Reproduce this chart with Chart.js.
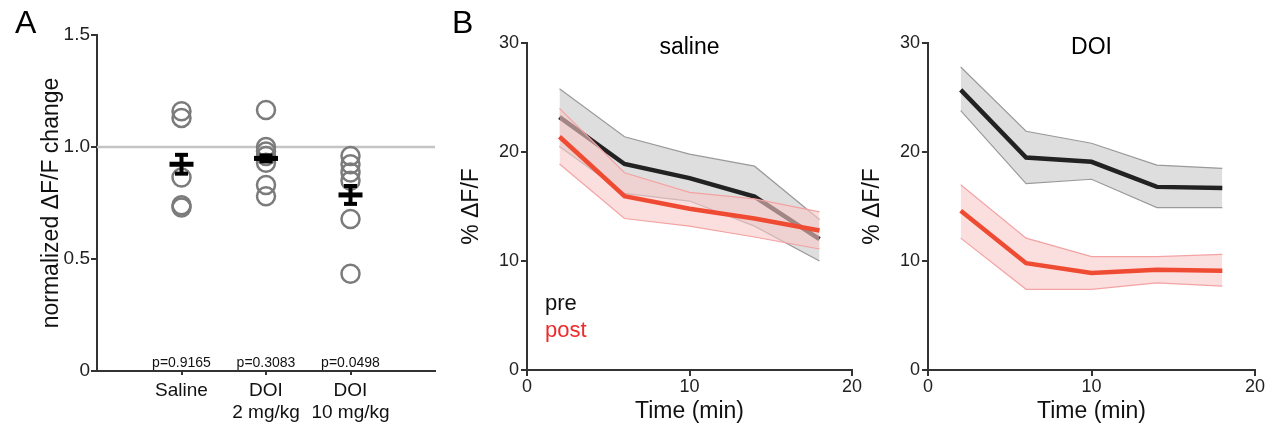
<!DOCTYPE html>
<html>
<head>
<meta charset="utf-8">
<script src="https://cdn.jsdelivr.net/npm/chart.js@4.4.1/dist/chart.umd.min.js"></script>
<style>
    body { margin: 0; background: #fff; }
    #wrap { position: relative; width: 1273px; height: 429px; overflow: hidden; font-family: 'Liberation Sans', Arial, sans-serif; }
    canvas { position: absolute; top: 0; }
    .panel-letter { position: absolute; font-size: 32px; line-height: 1; color: #000; }
</style>
</head>
<body>
<div id="wrap">
    <canvas id="chartA" width="440" height="429" style="left:0"></canvas>
    <canvas id="chartSaline" width="440" height="429" style="left:430px"></canvas>
    <canvas id="chartDoi" width="443" height="429" style="left:830px"></canvas>
    <div class="panel-letter" style="left:15px; top:6px">A</div>
    <div class="panel-letter" style="left:452px; top:6px">B</div>
</div>
<script>
// panel A
const groupLabels = [['Saline'], ['DOI', '2 mg/kg'], ['DOI', '10 mg/kg']];
const pValues = ['p=0.9165', 'p=0.3083', 'p=0.0498'];
const salineRatio = [1.16, 1.13, 0.864, 0.74, 0.73];
const doi2Ratio = [1.165, 1.00, 0.98, 0.96, 0.93, 0.83, 0.78];
const doi10Ratio = [0.96, 0.923, 0.886, 0.849, 0.679, 0.434];
const groupMeans = [0.923, 0.949, 0.786];
const groupSems = [0.042, 0.013, 0.04];
const ratioTicks = [0, 0.5, 1.0, 1.5];
const baselineRatio = 1.0;

// panel B
const timeMin = [2, 6, 10, 14, 18];
const timeTicks = [0, 10, 20];
const dffTicks = [0, 10, 20, 30];

const salinePre = [23.2, 18.9, 17.6, 15.9, 12.0];
const salinePreUpper = [25.8, 21.4, 19.8, 18.7, 13.8];
const salinePreLower = [20.5, 16.2, 15.5, 13.2, 10.0];
const salinePost = [21.4, 15.95, 14.8, 13.9, 12.8];
const salinePostUpper = [24.0, 18.1, 16.3, 15.7, 14.5];
const salinePostLower = [18.9, 13.9, 13.2, 12.2, 11.1];

const doiPre = [25.7, 19.5, 19.1, 16.8, 16.7];
const doiPreUpper = [27.8, 21.9, 20.8, 18.8, 18.5];
const doiPreLower = [23.8, 17.1, 17.5, 14.9, 14.9];
const doiPost = [14.6, 9.8, 8.9, 9.2, 9.1];
const doiPostUpper = [17.0, 12.1, 10.4, 10.4, 10.6];
const doiPostLower = [12.1, 7.4, 7.4, 8.0, 7.7];

const FONT = "'Liberation Sans', Arial, sans-serif";
const AXIS = '#333';
const PRE_COLOR = '#222';
const POST_COLOR = '#ef4b33';

Chart.defaults.font.family = FONT;
Chart.defaults.animation = false;

function pts(xs, ys) {
    return xs.map((x, i) => ({ x, y: ys[i] }));
}

function line(ctx, x1, y1, x2, y2) {
    ctx.beginPath();
    ctx.moveTo(x1, y1);
    ctx.lineTo(x2, y2);
    ctx.stroke();
}

const errorBars = {
    id: 'errorBars',
    afterDatasetsDraw(chart) {
        const { ctx, scales: { x, y } } = chart;
        ctx.save();
        ctx.strokeStyle = '#000';
        groupMeans.forEach((m, i) => {
            const px = x.getPixelForValue(i + 1);
            const top = y.getPixelForValue(m + groupSems[i]);
            const bot = y.getPixelForValue(m - groupSems[i]);
            const py = y.getPixelForValue(m);
            ctx.lineWidth = 4;
            line(ctx, px, top, px, bot);
            line(ctx, px - 6.5, top, px + 6.5, top);
            line(ctx, px - 6.5, bot, px + 6.5, bot);
            ctx.lineWidth = 5;
            line(ctx, px - 12, py, px + 12, py);
        });
        ctx.fillStyle = '#111';
        ctx.font = `14px ${FONT}`;
        ctx.textAlign = 'center';
        ctx.textBaseline = 'alphabetic';
        pValues.forEach((p, i) => ctx.fillText(p, x.getPixelForValue(i + 1), chart.chartArea.bottom - 4));
        ctx.restore();
    }
};

const panelText = {
    id: 'panelText',
    afterDraw(chart, args, opts) {
        const { ctx, chartArea } = chart;
        ctx.save();
        ctx.textBaseline = 'alphabetic';
        if (opts.title) {
            ctx.fillStyle = '#000';
            ctx.font = `23px ${FONT}`;
            ctx.textAlign = 'center';
            ctx.fillText(opts.title, (chartArea.left + chartArea.right) / 2, 54);
        }
        if (opts.legend) {
            ctx.font = `22px ${FONT}`;
            ctx.textAlign = 'left';
            ctx.fillStyle = '#111';
            ctx.fillText('pre', chartArea.left + 18, 310);
            ctx.fillStyle = '#ee2b2b';
            ctx.fillText('post', chartArea.left + 18, 337);
        }
        ctx.restore();
    }
};

function renderRatioChart() {
    const points = [
        ...salineRatio.map(v => ({ x: 1, y: v })),
        ...doi2Ratio.map(v => ({ x: 2, y: v })),
        ...doi10Ratio.map(v => ({ x: 3, y: v }))
    ];

    new Chart(document.getElementById('chartA'), {
        type: 'scatter',
        data: {
            datasets: [
                {
                    data: [{ x: 0, y: baselineRatio }, { x: 4, y: baselineRatio }],
                    showLine: true,
                    borderColor: '#c4c4c4',
                    borderWidth: 2.5,
                    pointRadius: 0,
                    order: 2
                },
                {
                    data: points,
                    pointRadius: 9,
                    pointBorderWidth: 2.5,
                    borderColor: '#7b7b7b',
                    backgroundColor: 'rgba(0,0,0,0)',
                    order: 1
                }
            ]
        },
        options: {
            responsive: false,
            layout: { autoPadding: false, padding: { left: 0, right: 5, top: 35, bottom: 0 } },
            plugins: { legend: { display: false }, tooltip: { enabled: false } },
            scales: {
                x: {
                    type: 'linear',
                    min: 0,
                    max: 4,
                    afterBuildTicks: s => { s.ticks = groupLabels.map((_, i) => ({ value: i + 1 })); },
                    afterFit: s => { s.height = 58; },
                    grid: { drawOnChartArea: false, drawTicks: true, tickLength: 4, color: AXIS, lineWidth: 2 },
                    border: { display: true, color: AXIS, width: 2 },
                    ticks: {
                        autoSkip: false,
                        maxRotation: 0,
                        padding: 5,
                        color: '#111',
                        font: { size: 19, lineHeight: 1.15 },
                        callback: v => groupLabels[v - 1]
                    }
                },
                y: {
                    min: 0,
                    max: 1.5,
                    afterBuildTicks: s => { s.ticks = ratioTicks.map(v => ({ value: v })); },
                    afterFit: s => { s.width = 97; },
                    grid: { drawOnChartArea: false, drawTicks: true, tickLength: 6, color: AXIS, lineWidth: 2 },
                    border: { color: AXIS, width: 2 },
                    ticks: {
                        padding: 1,
                        color: '#222',
                        font: { size: 19 },
                        callback: v => v === 0 ? '0' : v.toFixed(1)
                    },
                    title: {
                        display: true,
                        text: 'normalized ΔF/F change',
                        color: '#111',
                        font: { size: 23 },
                        padding: { top: 38, bottom: 0 }
                    }
                }
            }
        },
        plugins: [errorBars]
    });
}

function renderTraceChart(id, cfg) {
    const edge = { pointRadius: 0, borderWidth: 1.2, tension: 0 };
    new Chart(document.getElementById(id), {
        type: 'line',
        data: {
            datasets: [
                { ...edge, data: pts(timeMin, cfg.preUpper), borderColor: '#9a9a9a', backgroundColor: 'rgba(200,200,200,0.6)', fill: '+1', order: 6 },
                { ...edge, data: pts(timeMin, cfg.preLower), borderColor: '#9a9a9a', fill: false, order: 5 },
                { data: pts(timeMin, cfg.pre), borderColor: PRE_COLOR, borderWidth: 4.5, pointRadius: 0, fill: false, order: 4 },
                { ...edge, data: pts(timeMin, cfg.postUpper), borderColor: '#f4a2a2', backgroundColor: 'rgba(248,200,200,0.6)', fill: '+1', order: 3 },
                { ...edge, data: pts(timeMin, cfg.postLower), borderColor: '#f4a2a2', fill: false, order: 2 },
                { data: pts(timeMin, cfg.post), borderColor: POST_COLOR, borderWidth: 4.5, pointRadius: 0, fill: false, order: 1 }
            ]
        },
        options: {
            responsive: false,
            layout: { autoPadding: false, padding: { left: 0, right: 18, top: 43, bottom: 0 } },
            plugins: {
                legend: { display: false },
                tooltip: { enabled: false },
                panelText: { title: cfg.title, legend: cfg.legend }
            },
            scales: {
                x: {
                    type: 'linear',
                    min: 0,
                    max: 20,
                    afterBuildTicks: s => { s.ticks = timeTicks.map(v => ({ value: v })); },
                    afterFit: s => { s.height = 59; },
                    grid: { drawOnChartArea: false, drawTicks: true, tickLength: 6, color: AXIS, lineWidth: 2 },
                    border: { color: AXIS, width: 2 },
                    ticks: { padding: 0, color: '#222', font: { size: 18 }, maxRotation: 0 },
                    title: { display: true, text: 'Time (min)', color: '#111', font: { size: 23 }, padding: { top: 0, bottom: 4 } }
                },
                y: {
                    min: 0,
                    max: 30,
                    afterBuildTicks: s => { s.ticks = dffTicks.map(v => ({ value: v })); },
                    afterFit: s => { s.width = cfg.axisWidth; },
                    grid: { drawOnChartArea: false, drawTicks: true, tickLength: 6, color: AXIS, lineWidth: 2 },
                    border: { color: AXIS, width: 2 },
                    ticks: { padding: 2, color: '#222', font: { size: 18 } },
                    title: { display: true, text: '% ΔF/F', color: '#111', font: { size: 23 }, padding: { top: cfg.titlePad, bottom: 0 } }
                }
            }
        },
        plugins: [panelText]
    });
}

renderRatioChart();
renderTraceChart('chartSaline', {
    title: 'saline', legend: true, axisWidth: 97, titlePad: 28,
    pre: salinePre, preUpper: salinePreUpper, preLower: salinePreLower,
    post: salinePost, postUpper: salinePostUpper, postLower: salinePostLower
});
renderTraceChart('chartDoi', {
    title: 'DOI', legend: false, axisWidth: 98, titlePad: 29,
    pre: doiPre, preUpper: doiPreUpper, preLower: doiPreLower,
    post: doiPost, postUpper: doiPostUpper, postLower: doiPostLower
});
</script>
</body>
</html>
